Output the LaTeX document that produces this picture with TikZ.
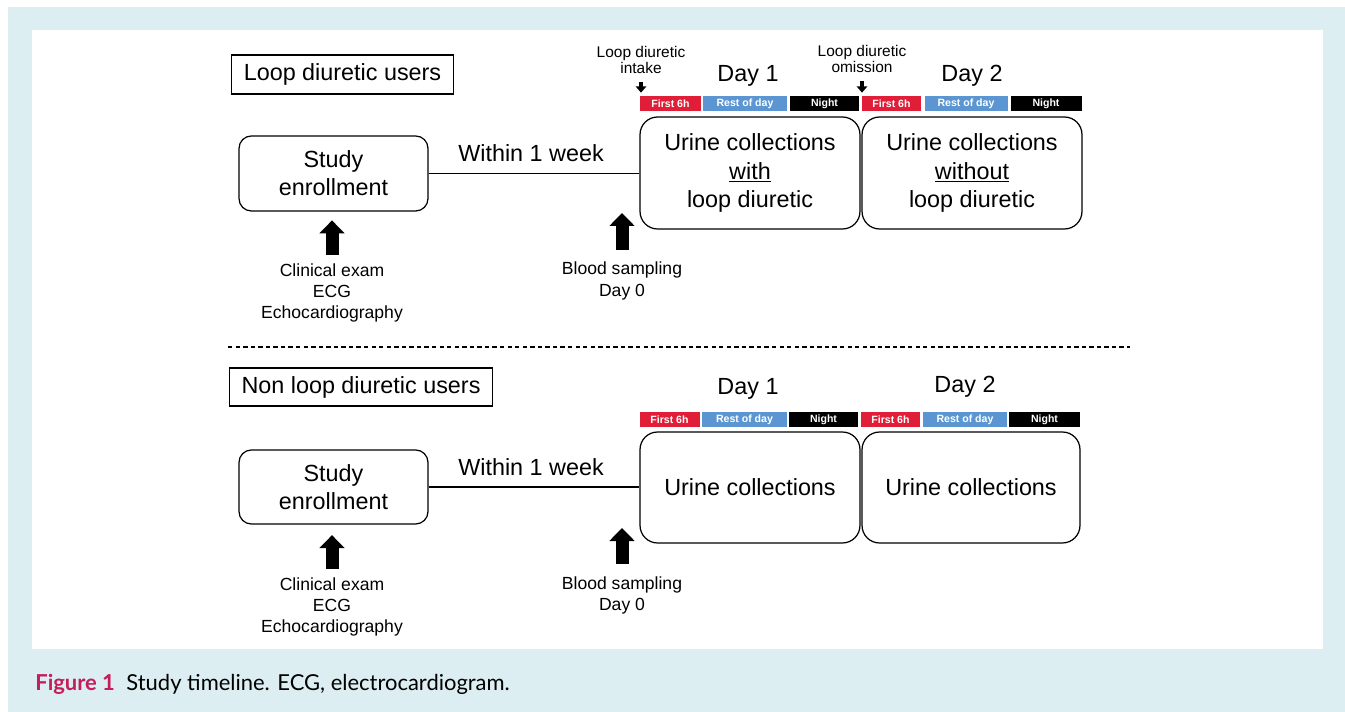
\documentclass[tikz,border=0pt]{standalone}
\usepackage{fontspec}
\setmainfont{Liberation Sans}
\newfontfamily\capfont{Lato}
\usetikzlibrary{arrows.meta}
\definecolor{capblue}{RGB}{221,238,243}
\definecolor{barred}{RGB}{224,30,55}
\definecolor{barblue}{RGB}{91,150,210}
\definecolor{figred}{RGB}{196,30,90}

\begin{document}
\begin{tikzpicture}[x=0.02cm, y=-0.02cm, every node/.style={font=\fontsize{13.3}{16}\selectfont},
	rbox/.style={draw, line width=0.7pt, rounded corners=7pt, align=center},
	lbl/.style={draw, line width=0.6pt, anchor=west, inner sep=0pt},
	note/.style={align=center, inner sep=0pt, font=\fontsize{10}{12}\selectfont},
	smallnote/.style={align=center, inner sep=0pt, font=\fontsize{8.8}{9.6}\selectfont},
	bar/.style={inner sep=0pt, minimum height=0.3cm, text=white, font=\fontsize{6}{7}\selectfont\bfseries},
	fat/.style={line width=7.4pt, -{Triangle[length=7.4pt, width=14pt]}},
	dropar/.style={line width=2pt, -{Triangle[length=3.6pt, width=6pt]}}]
	\useasboundingbox (0,0) rectangle (1345,712);
	\fill[capblue] (8,7) rectangle (1345,712);
	\fill[white] (32,30) rectangle (1323,649);
	% loop diuretic users
	\node[lbl, minimum width=4.44cm, minimum height=0.78cm] (lu) at (231,74.5) {Loop diuretic users};
	\node[rbox, minimum width=3.78cm, minimum height=1.5cm] (enr1) at (333.5,173.5) {Study\\enrollment};
	\node[rbox, rounded corners=10pt, minimum width=4.4cm, minimum height=2.24cm] (uc1) at (750,173) {Urine collections\\\underline{with}\\loop diuretic};
	\node[rbox, rounded corners=10pt, minimum width=4.4cm, minimum height=2.24cm] (uc2) at (972,173) {Urine collections\\\underline{without}\\loop diuretic};
	\node (w1) at (531,153) {Within 1 week};
	\draw[line width=0.8pt] (enr1.east) -- (enr1.east -| uc1.west);
	\node (d1) at (748,75.5) {Day 1};
	\node (d2) at (972,75.5) {Day 2};
	\node[bar, fill=barred, minimum width=1.22cm] (f1) at (670.5,103.5) {First 6h};
	\node[bar, fill=barblue, minimum width=1.68cm] (r1) at (745,103.5) {Rest of day};
	\node[bar, fill=black, minimum width=1.38cm] (n1) at (824.5,103.5) {Night};
	\node[bar, fill=barred, minimum width=1.18cm] (f2) at (891.5,103.5) {First 6h};
	\node[bar, fill=barblue, minimum width=1.66cm] (r2) at (966,103.5) {Rest of day};
	\node[bar, fill=black, minimum width=1.42cm] (n2) at (1046,103.5) {Night};
	\node[smallnote] (take) at (641,60) {Loop diuretic\\intake};
	\node[smallnote] (omit) at (862,59) {Loop diuretic\\omission};
	\draw[dropar, shorten <=4.5pt, shorten >=1.7pt] (take.south) -- (take.south |- f1.north);
	\draw[dropar, shorten <=4.5pt, shorten >=1.7pt] (omit.south) -- (omit.south |- f2.north);
	\node[note] (clin1) at (332,293) {Clinical exam\\ECG\\Echocardiography};
	\draw[fat, shorten <=5pt, shorten >=5pt] (clin1.north) -- (clin1.north |- enr1.south);
	\node[note] (blood1) at (622,281) {Blood sampling\\Day 0};
	\coordinate (t1) at (622,213);
	\draw[fat, shorten <=7pt] (blood1.north) -- (t1);
	\coordinate (dl) at (228,347);
	\coordinate (dr) at (1130,347);
	\draw[line width=0.6pt, dash pattern=on 2.5pt off 1.8pt] (dl) -- (dr);
	% non loop diuretic users
	\node[lbl, minimum width=5.26cm, minimum height=0.76cm] (nlu) at (229,387) {Non loop diuretic users};
	\node[rbox, minimum width=3.78cm, minimum height=1.48cm] (enr2) at (333.5,487) {Study\\enrollment};
	\node[rbox, rounded corners=10pt, minimum width=4.4cm, minimum height=2.22cm] (uc3) at (750,487.5) {Urine collections};
	\node[rbox, rounded corners=10pt, minimum width=4.36cm, minimum height=2.22cm] (uc4) at (971,487.5) {Urine collections};
	\node (w2) at (531,467) {Within 1 week};
	\draw[line width=0.8pt] (enr2.east) -- (enr2.east -| uc3.west);
	\node (d3) at (748,389) {Day 1};
	\node (d4) at (965,387) {Day 2};
	\node[bar, fill=barred, minimum width=1.2cm] (f3) at (669.5,419.5) {First 6h};
	\node[bar, fill=barblue, minimum width=1.7cm] (r3) at (744.5,419.5) {Rest of day};
	\node[bar, fill=black, minimum width=1.38cm] (n3) at (823.5,419.5) {Night};
	\node[bar, fill=barred, minimum width=1.18cm] (f4) at (890.5,419.5) {First 6h};
	\node[bar, fill=barblue, minimum width=1.68cm] (r4) at (965,419.5) {Rest of day};
	\node[bar, fill=black, minimum width=1.42cm] (n4) at (1044.5,419.5) {Night};
	\node[note] (clin2) at (332,607) {Clinical exam\\ECG\\Echocardiography};
	\draw[fat, shorten <=4.5pt, shorten >=6pt] (clin2.north) -- (clin2.north |- enr2.south);
	\node[note] (blood2) at (622,595.5) {Blood sampling\\Day 0};
	\coordinate (t2) at (622,528);
	\draw[fat, shorten <=7pt] (blood2.north) -- (t2);
	% caption
	\node[anchor=west, inner sep=0pt, font=\capfont\fontsize{12.5}{15}\selectfont] (cap) at (35,684) {\textcolor{figred}{\bfseries Figure 1}\hspace{6.5pt}Study timeline. ECG, electrocardiogram.};
\end{tikzpicture}
\end{document}
